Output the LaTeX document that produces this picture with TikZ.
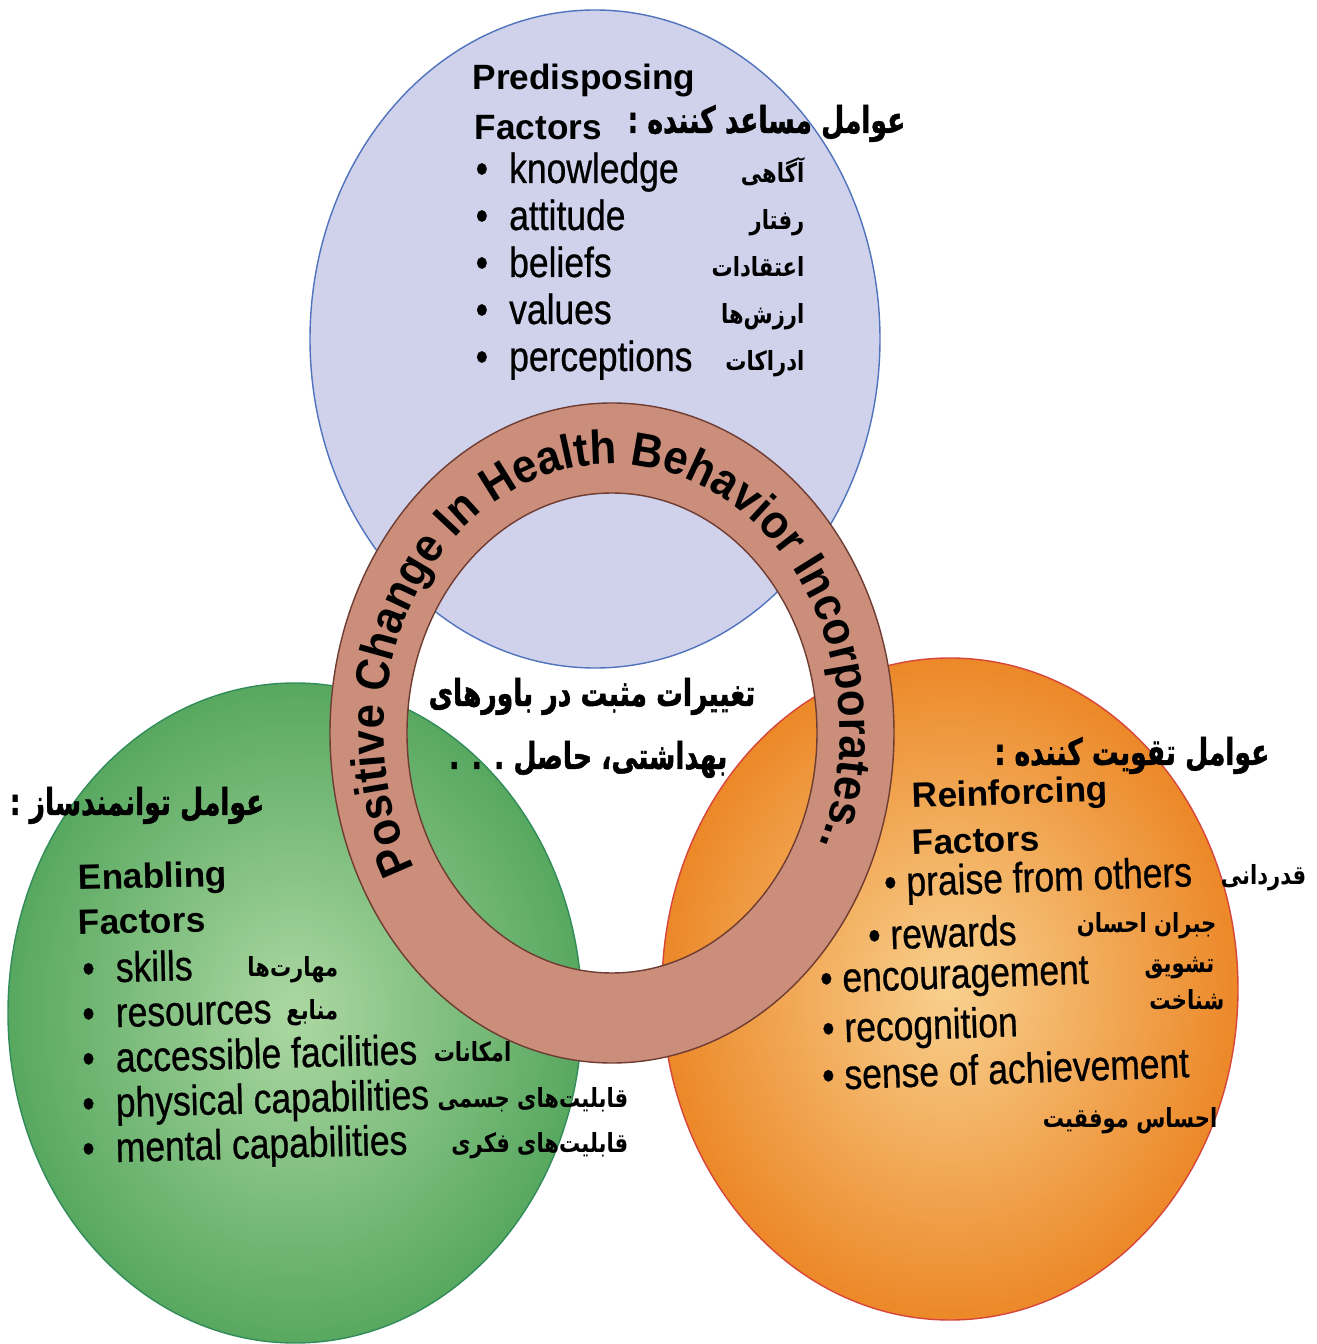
\documentclass[tikz,border=0pt]{standalone}
\usepackage{fontspec}
\usetikzlibrary{calc,decorations.text}
\setmainfont{Liberation Sans}
\newfontfamily\headfont{Liberation Sans}
\newfontfamily\itemfont[FakeStretch=0.84,FakeBold=0.6]{Liberation Sans}
\newfontfamily\ringfont[FakeStretch=0.92]{Liberation Sans}
\newfontfamily\faheadfont[Script=Arabic,FakeStretch=0.72,FakeBold=1.2]{DejaVu Sans}
\newfontfamily\faitemfont[Script=Arabic,FakeStretch=0.8]{DejaVu Sans}
\TeXXeTstate=1
\newcommand\rtl[1]{\beginR#1\endR}

\definecolor{prefill}{RGB}{208,210,236}
\definecolor{preline}{RGB}{80,115,190}
\definecolor{enain}{RGB}{172,216,162}
\definecolor{enaout}{RGB}{88,168,96}
\definecolor{enaline}{RGB}{50,140,90}
\definecolor{reiin}{RGB}{248,208,142}
\definecolor{reiout}{RGB}{236,136,40}
\definecolor{reiline}{RGB}{215,70,60}
\definecolor{ringfill}{RGB}{202,142,122}
\definecolor{ringline}{RGB}{110,60,50}

\tikzset{
  head/.style={font=\headfont\bfseries\fontsize{10}{12}\selectfont, anchor=base west, inner sep=0pt},
  item/.style={font=\itemfont\fontsize{12}{14}\selectfont, anchor=base west, inner sep=0pt},
  fahead/.style={font=\faheadfont\bfseries\fontsize{10.5}{12}\selectfont, anchor=base east, inner sep=0pt},
  faitem/.style={font=\faitemfont\bfseries\fontsize{7.5}{9}\selectfont, anchor=base east, inner sep=0pt}
}

\begin{document}
\begin{tikzpicture}[x=0.01cm,y=0.01cm]
\fill[white] (0,0) rectangle (1317,1344);
\useasboundingbox (0,0) rectangle (1317,1344);
\coordinate (pre) at (595,1005);
\coordinate (ena) at (295,331);
\coordinate (rei) at (950,355);
\coordinate (ring) at (612,611);
% the three factor circles
\draw[preline, fill=prefill] (pre) ellipse [x radius=285, y radius=329];
\draw[enaline, inner color=enain, outer color=enaout] (ena) ellipse [x radius=287, y radius=330];
\draw[reiline, inner color=reiin, outer color=reiout] (rei) ellipse [x radius=288, y radius=331];
% the ring
\draw[ringline, fill=ringfill, even odd rule] (ring) ellipse [x radius=282, y radius=330]
  (ring) ellipse [x radius=205, y radius=240];
\path[decorate, decoration={text along path, text align=center, text format delimiters={|}{|},
  text={|\ringfont\bfseries\fontsize{13.5}{15}\selectfont|Positive Change In Health Behavior Incorporates...}}]
  ($(ring)+(207:228 and 269)$) arc [start angle=207, end angle=-24, x radius=228, y radius=269];

% predisposing
\node[head] (preH1) at (472,1254) {Predisposing};
\node[head] (preH2) at (474,1204) {Factors};
\node[fahead] (preFa) at (906,1211) {\rtl{عوامل مساعد کننده :}};
\foreach \e/\f [count=\i] in {knowledge/آگاهی, attitude/رفتار, beliefs/اعتقادات, values/ارزش^^^^200cها, perceptions/ادراکات} {
  \node[item] (pre\i) at (475,{1208-47*\i}) {•\enspace\e};
  \node[faitem] (preFa\i) at (805,{1208-47*\i}) {\rtl{\f}};
}

% enabling
\node[fahead] (enaFa) at (265,529) {\rtl{عوامل توانمندساز :}};
\node[head, rotate=1.5] (enaH1) at (78,454) {Enabling};
\node[head, rotate=1.5] (enaH2) at (78,409) {Factors};
\foreach \e/\f/\fx/\fy [count=\i] in {skills/مهارت^^^^200cها/339/367, resources/منابع/339/324,
    accessible facilities/امکانات/512/282, physical capabilities/قابلیت^^^^200cهای جسمی/629/236,
    mental capabilities/قابلیت^^^^200cهای فکری/629/191} {
  \node[item, rotate=1.5] (ena\i) at (82,{406-45*\i}) {•\enspace\e};
  \node[faitem] (enaFa\i) at (\fx,\fy) {\rtl{\f}};
}

% reinforcing
\node[fahead] (reiFa) at (1270,579) {\rtl{عوامل تقویت کننده :}};
\node[head, rotate=2] (reiH1) at (912,536) {Reinforcing};
\node[head, rotate=2] (reiH2) at (912,489) {Factors};
\foreach \e/\x/\y/\f/\fx/\fy [count=\i] in {praise from others/884/447/قدردانی/1307/459,
    rewards/868/394/جبران احسان/1217/411, encouragement/820/351/تشویق/1215/371,
    recognition/822/301/شناخت/1225/334, sense of achievement/822/254/احساس موفقیت/1218/216} {
  \node[item, rotate=2] (rei\i) at (\x,\y) {•~\e};
  \node[faitem] (reiFa\i) at (\fx,\fy) {\rtl{\f}};
}

% centre
\node[fahead] (mid1) at (756,638) {\rtl{تغییرات مثبت در باورهای}};
\node[fahead] (mid2) at (728,575) {\rtl{بهداشتی، حاصل . . .}};
\end{tikzpicture}
\end{document}
